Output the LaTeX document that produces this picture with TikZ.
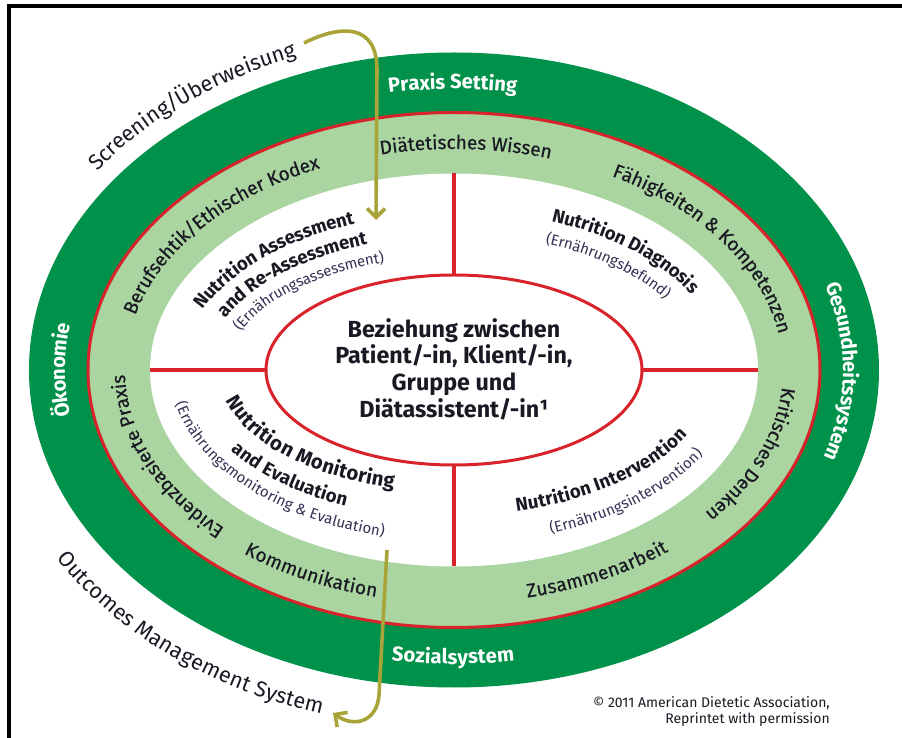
\documentclass[tikz,border=0pt]{standalone}
\usepackage{fontspec}
\setmainfont{Fira Sans}
\newfontfamily\medfont{Fira Sans}[FakeBold=0.4]
\usetikzlibrary{decorations.text,arrows.meta}
\definecolor{dgreen}{RGB}{0,145,74}
\definecolor{lgreen}{RGB}{170,212,160}
\definecolor{cred}{RGB}{216,35,42}
\definecolor{olive}{RGB}{168,164,58}
\definecolor{tdark}{RGB}{25,25,35}
\definecolor{tsub}{RGB}{50,50,85}
\newcommand{\arctext}[6]{\path[decorate,decoration={text along path,text align=left,raise=#5,text={#6}}] (#3:#1 and #2) arc[start angle=#3,end angle=#4,x radius=#1,y radius=#2];}
\newcommand{\fmtW}{\fontsize{20.3}{24}\selectfont\bfseries\color{white}}
\newcommand{\fmtR}{\fontsize{19.2}{22}\medfont\color{tdark}}
\newcommand{\fmtO}{\fontsize{21.7}{24}\selectfont\color{tdark}}
\newcommand{\fmtQ}{\fontsize{18.6}{22}\selectfont\bfseries\color{tdark}}
\newcommand{\fmtM}{\fontsize{20.3}{22}\selectfont\bfseries\color{tdark}}
\newcommand{\fmtS}{\fontsize{15}{18}\selectfont\color{tsub}}
\tikzset{
  divider/.style={draw=cred,line width=3.2pt},
  flow/.style={draw=olive,line width=3.6pt,-{Straight Barb[length=9pt,width=18pt]}},
}
\begin{document}
\begin{tikzpicture}[x=1pt,y=1pt]
\useasboundingbox (-454,-368) rectangle (448,370);
% rings
\fill[dgreen] (0,0) ellipse [x radius=425, y radius=317.5];
\fill[lgreen] (0,0) ellipse [x radius=366, y radius=257.5];
\draw[cred,line width=3pt] (0,0) ellipse [x radius=366, y radius=257.5];
\fill[white] (0,0) ellipse [x radius=304, y radius=196.5];
\draw[cred,line width=3pt] (0,0) ellipse [x radius=188, y radius=95];
% dividers
\coordinate (wt) at (0,196.5); \coordinate (ct) at (0,95);
\coordinate (wb) at (0,-196.5); \coordinate (cb) at (0,-95);
\coordinate (wl) at (-304,0); \coordinate (cl) at (-188,0);
\coordinate (wr) at (304,0); \coordinate (cr) at (188,0);
\draw[divider] (wt) -- (ct);
\draw[divider] (cb) -- (wb);
\draw[divider] (wl) -- (cl);
\draw[divider] (cr) -- (wr);
% dark green ring labels
\arctext{395.5}{287.5}{99.6}{-20}{-6.5pt}{|\fmtW|Praxis Setting}
\arctext{395.5}{287.5}{261}{380}{-6.5pt}{|\fmtW|Sozialsystem}
\arctext{395.5}{287.5}{189.4}{70}{-6.5pt}{|\fmtW|Ökonomie}
\arctext{395.5}{287.5}{17.6}{-100}{-6.5pt}{|\fmtW|Gesundheitssystem}
% light green ring labels
\arctext{335}{227}{102.8}{-17}{-6pt}{|\fmtR|Diätetisches Wissen}
\arctext{335}{227}{165.5}{45}{-6pt}{|\fmtR|Berufsehtik/Ethischer Kodex}
\arctext{335}{227}{61.5}{-56}{-6pt}{|\fmtR|Fähigkeiten {\&} Kompetenzen}
\arctext{335}{227}{-4.5}{-124}{-6pt}{|\fmtR|Kritisches Denken}
\arctext{335}{227}{282.5}{400}{-6pt}{|\fmtR|Zusammenarbeit}
\arctext{335}{227}{231.7}{351}{-6pt}{|\fmtR|Kommunikation}
\arctext{335}{227}{226}{106}{-6pt}{|\fmtR|Evidenzbasierte Praxis}
% outside labels
\arctext{450}{342}{143.5}{23}{-7pt}{|\fmtO|Screening/Überweisung}
\arctext{460}{352}{211.5}{331}{-7pt}{|\fmtO|Outcomes Management System}
% quadrant labels
\arctext{278}{163}{157}{37}{-6pt}{|\fmtQ|Nutrition Assessment}
\arctext{254}{140}{156.5}{36}{-6pt}{|\fmtQ|and Re-Assessment}
\arctext{232}{118}{159.5}{39}{-5pt}{|\fmtS|(Ernährungsassessment)}
\arctext{275.5}{165.7}{69}{-50}{-6pt}{|\fmtQ|Nutrition Diagnosis}
\arctext{252}{141.3}{68.5}{-51}{-5pt}{|\fmtS|(Ernährungsbefund)}
\arctext{254.8}{139.3}{284}{404}{-6pt}{|\fmtQ|Nutrition Intervention}
\arctext{279.8}{168.9}{290}{410}{-5pt}{|\fmtS|(Ernährungsintervention)}
\arctext{228.8}{115.9}{193.5}{313}{-6.5pt}{|\fmtM|Nutrition Monitoring}
\arctext{259}{142.7}{212}{332}{-6pt}{|\fmtQ|and Evaluation}
\arctext{279}{166.8}{191}{311}{-5pt}{|\fmtS|(Ernährungsmonitoring {\&} Evaluation)}
% centre
\node[align=center,text=tdark,font=\fontsize{23.3}{26.7}\selectfont\bfseries] (centre) at (0,1)
  {Beziehung zwischen\\Patient/-in, Klient/-in,\\Gruppe und\\Diätassistent/-in¹};
% flow arrows
\coordinate (inS) at (-150,327);
\coordinate (inV) at (-77,300);
\coordinate (inE) at (-78,150);
\draw[flow] (inS) .. controls (-112,346) and (-77,346) .. (inV) -- (inE);
\coordinate (outS) at (-67,-180);
\coordinate (outV) at (-75,-325);
\coordinate (outE) at (-121,-343);
\draw[flow] (outS) -- (outV) .. controls (-77,-352) and (-100,-358) .. (outE);
% frame
\draw[line width=3.5pt] (-445,-372) -- (-445,364) -- (452,364);
% copyright
\node[anchor=base east,text=tdark,font=\fontsize{14}{15}\selectfont,inner sep=0pt] (copy1) at (376,-337) {© 2011 American Dietetic Association,};
\node[anchor=base east,text=tdark,font=\fontsize{14}{15}\selectfont,inner sep=0pt] (copy2) at (376,-353) {Reprintet with permission};
\end{tikzpicture}
\end{document}
